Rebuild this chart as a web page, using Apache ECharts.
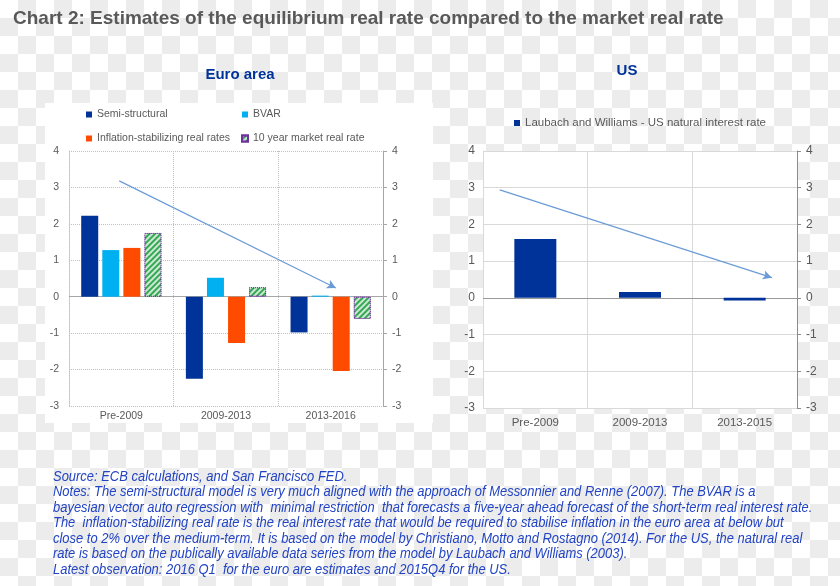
<!DOCTYPE html>
<html>
<head>
<meta charset="utf-8">
<script src="https://cdn.jsdelivr.net/npm/echarts@6/dist/echarts.min.js"></script>
<style>
html,body{margin:0;padding:0;}
body{width:840px;height:586px;overflow:hidden;
background:repeating-conic-gradient(#ececec 0% 25%, #ffffff 0% 50%) 0 0/36px 36px;}
#c{position:absolute;left:0;top:0;width:840px;height:586px;}
</style>
</head>
<body>
<div id="c"></div>
<script>
// ---- data ----
const categoriesEuro = ['Pre-2009', '2009-2013', '2013-2016'];
const semiStructural = [2.22, -2.25, -0.98];
const bvar = [1.28, 0.52, 0.03];
const inflationStabilizing = [1.34, -1.27, -2.04];
const marketReal10y = [1.75, 0.26, -0.61];

const categoriesUS = ['Pre-2009', '2009-2013', '2013-2015'];
const laubachWilliams = [1.60, 0.16, -0.07];

const yTicks = { min: -3, max: 4, interval: 1 };

// trend arrows (category-index, value)
const euroArrow = [[-0.02, 3.18], [2.05, 0.24]];
const usArrow = [[-0.34, 2.94], [2.26, 0.55]];

const mainTitle = 'Chart 2: Estimates of the equilibrium real rate compared to the market real rate';
const euroTitle = 'Euro area';
const usTitle = 'US';
const footnotes = [
  'Source: ECB calculations, and San Francisco FED.',
  'Notes: The semi-structural model is very much aligned with the approach of Messonnier and Renne (2007). The BVAR is a',
  'bayesian vector auto regression with  minimal restriction  that forecasts a five-year ahead forecast of the short-term real interest rate.',
  'The  inflation-stabilizing real rate is the real interest rate that would be required to stabilise inflation in the euro area at below but',
  'close to 2% over the medium-term. It is based on the model by Christiano, Motto and Rostagno (2014). For the US, the natural real',
  'rate is based on the publically available data series from the model by Laubach and Williams (2003).',
  'Latest observation: 2016 Q1  for the euro are estimates and 2015Q4 for the US.'
];

// ---- styles ----
const grey = '#595959';
const FONT = 'Liberation Sans, Arial, sans-serif';

const chart = echarts.init(document.getElementById('c'), null, { renderer: 'canvas' });

function zeroLine(color) {
  return { silent: true, symbol: 'none', label: { show: false },
    lineStyle: { color: color, type: 'solid', width: 1 }, data: [{ yAxis: 0 }], z: 1 };
}
function arrowLine(pts) {
  return { silent: true, symbol: ['none', 'arrow'], symbolSize: [7, 9], label: { show: false },
    lineStyle: { color: '#6b9bd6', type: 'solid', width: 1.2 },
    data: [[{ coord: pts[0] }, { coord: pts[1] }]] };
}

const graphics = [
  { type: 'rect', shape: { x: 45, y: 103, width: 388, height: 320 }, style: { fill: '#ffffff' }, z: -10, silent: true },
  { type: 'text', x: 13, y: 19, style: { text: mainTitle, font: 'bold 19px ' + FONT, fill: grey, verticalAlign: 'middle' }, z: 10 },
  { type: 'text', x: 240, y: 75, style: { text: euroTitle, font: 'bold 15px ' + FONT, fill: '#003399', align: 'center', verticalAlign: 'middle' } },
  { type: 'text', x: 627, y: 71, style: { text: usTitle, font: 'bold 15px ' + FONT, fill: '#003399', align: 'center', verticalAlign: 'middle' } }
];
footnotes.forEach(function (t, i) {
  graphics.push({ type: 'text', x: 53, y: 477 + i * 15.5, scaleX: 0.925, scaleY: 1,
    style: { text: t, font: 'italic 14px ' + FONT, fill: '#2244c4', verticalAlign: 'middle' } });
});

const option = {
  backgroundColor: 'transparent',
  animation: false,
  graphic: graphics,
  legend: [
    { data: ['Semi-structural', 'Inflation-stabilizing real rates'], orient: 'vertical', left: 86, top: 109,
      padding: 0, itemWidth: 6, itemHeight: 6, itemGap: 13, icon: 'rect',
      textStyle: { color: grey, fontSize: 10.5, fontFamily: FONT } },
    { data: ['BVAR', '10 year market real rate'], orient: 'vertical', left: 241, top: 109,
      padding: 0, itemWidth: 6, itemHeight: 6, itemGap: 13, icon: 'rect',
      textStyle: { color: grey, fontSize: 10.5, fontFamily: FONT } },
    { data: ['Laubach and Williams - US natural interest rate'], left: 514, top: 117,
      padding: 0, itemWidth: 6, itemHeight: 6, icon: 'rect',
      textStyle: { color: grey, fontSize: 11.5, fontFamily: FONT } }
  ],
  grid: [
    { left: 69, top: 151, width: 314, height: 255, containLabel: false },
    { left: 483, top: 151, width: 314, height: 257, containLabel: false, show: true, backgroundColor: '#ffffff', borderWidth: 0 }
  ],
  xAxis: [
    { gridIndex: 0, type: 'category', data: categoriesEuro,
      axisLine: { show: false, onZero: false }, axisTick: { show: false },
      axisLabel: { color: grey, fontSize: 10.5, fontFamily: FONT, margin: 5 },
      splitLine: { show: true, lineStyle: { color: '#bfbfbf', type: 'dotted' } } },
    { gridIndex: 1, type: 'category', data: categoriesUS,
      axisLine: { show: false, onZero: false }, axisTick: { show: false },
      axisLabel: { color: grey, fontSize: 11.5, fontFamily: FONT, margin: 9 },
      splitLine: { show: true, lineStyle: { color: '#d9d9d9', type: 'solid' } } },
    { gridIndex: 0, type: 'value', min: -0.5, max: 2.5, show: false },
    { gridIndex: 1, type: 'value', min: -0.5, max: 2.5, show: false }
  ],
  yAxis: [
    { gridIndex: 0, type: 'value', position: 'left', min: yTicks.min, max: yTicks.max, interval: yTicks.interval,
      axisLine: { show: true, onZero: false, lineStyle: { color: '#bfbfbf', type: 'dotted' } }, axisTick: { show: false },
      axisLabel: { color: grey, fontSize: 10.5, fontFamily: FONT, margin: 10 },
      splitLine: { show: true, lineStyle: { color: '#bfbfbf', type: 'dotted' } } },
    { gridIndex: 0, type: 'value', position: 'right', min: yTicks.min, max: yTicks.max, interval: yTicks.interval,
      axisLine: { show: true, onZero: false, lineStyle: { color: '#a6a6a6' } },
      axisTick: { show: true, length: 4, lineStyle: { color: '#a6a6a6' } },
      axisLabel: { color: grey, fontSize: 10.5, fontFamily: FONT, margin: 9 },
      splitLine: { show: false } },
    { gridIndex: 1, type: 'value', position: 'left', min: yTicks.min, max: yTicks.max, interval: yTicks.interval,
      axisLine: { show: true, onZero: false, lineStyle: { color: '#d9d9d9' } }, axisTick: { show: false },
      axisLabel: { color: grey, fontSize: 12, fontFamily: FONT, margin: 8 },
      splitLine: { show: true, lineStyle: { color: '#d9d9d9', type: 'solid' } } },
    { gridIndex: 1, type: 'value', position: 'right', min: yTicks.min, max: yTicks.max, interval: yTicks.interval,
      axisLine: { show: true, onZero: false, lineStyle: { color: '#8c8c8c' } },
      axisTick: { show: true, length: 4, lineStyle: { color: '#8c8c8c' } },
      axisLabel: { color: grey, fontSize: 12, fontFamily: FONT, margin: 9 },
      splitLine: { show: false } }
  ],
  series: [
    { name: 'Semi-structural', type: 'bar', xAxisIndex: 0, yAxisIndex: 0, data: semiStructural,
      barWidth: 17, barGap: '24%', itemStyle: { color: '#003399' }, markLine: zeroLine('#a6a6a6') },
    { name: 'BVAR', type: 'bar', xAxisIndex: 0, yAxisIndex: 0, data: bvar,
      barWidth: 17, barGap: '24%', itemStyle: { color: '#00b0f0' } },
    { name: 'Inflation-stabilizing real rates', type: 'bar', xAxisIndex: 0, yAxisIndex: 0, data: inflationStabilizing,
      barWidth: 17, barGap: '24%', itemStyle: { color: '#ff4b00' } },
    { name: '10 year market real rate', type: 'bar', xAxisIndex: 0, yAxisIndex: 0, data: marketReal10y,
      barWidth: 17, barGap: '24%',
      itemStyle: { color: '#35a853', borderColor: '#7030a0', borderWidth: 1, borderType: 'dotted',
        decal: { symbol: 'rect', symbolSize: 1, color: 'rgba(255,255,255,0.75)', dashArrayX: [1, 0], dashArrayY: [2, 2], rotation: -Math.PI / 4 } } },
    { name: 'Laubach and Williams - US natural interest rate', type: 'bar', xAxisIndex: 1, yAxisIndex: 2, data: laubachWilliams,
      barWidth: 42, itemStyle: { color: '#003399' }, markLine: zeroLine('#999999') },
    { name: 'euroArrow', type: 'line', xAxisIndex: 2, yAxisIndex: 0, data: euroArrow, symbol: 'none', silent: true,
      lineStyle: { opacity: 0 }, markLine: arrowLine(euroArrow), z: 5 },
    { name: 'usArrow', type: 'line', xAxisIndex: 3, yAxisIndex: 2, data: usArrow, symbol: 'none', silent: true,
      lineStyle: { opacity: 0 }, markLine: arrowLine(usArrow), z: 5 }
  ]
};
chart.setOption(option);
</script>
</body>
</html>
